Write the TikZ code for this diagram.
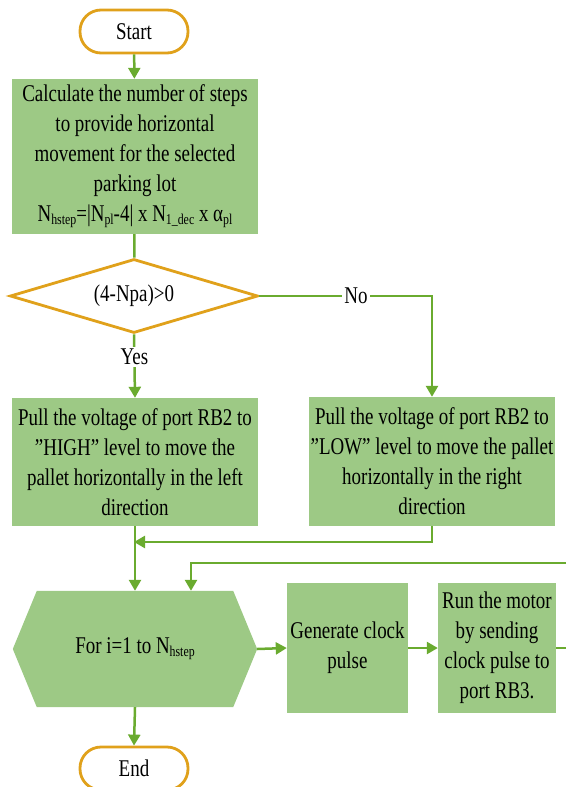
\documentclass[tikz,border=0pt]{standalone}
\usepackage{fontspec}
\setmainfont{Liberation Serif}[FakeStretch=0.79]
\usetikzlibrary{arrows.meta,shapes.geometric}
\pgfdeclarelayer{bg}
\pgfsetlayers{bg,main}
\definecolor{boxgreen}{HTML}{9DC985}
\definecolor{linegreen}{HTML}{6AAB2F}
\definecolor{termorange}{HTML}{E0A11B}
% small lowered index text, as in N_hstep
\newcommand{\sbs}[1]{\raisebox{-0.25ex}{\fontsize{15}{15}\selectfont #1}}

\begin{document}
\begin{tikzpicture}[x=1pt,y=-1pt,
  every node/.style={font=\fontsize{24}{30}\selectfont, inner sep=0pt},
  term/.style={draw=termorange, line width=2.8pt, fill=white, rounded corners=21pt,
               minimum width=108pt, minimum height=43pt},
  procbox/.style={fill=boxgreen, align=center},
  decbox/.style={diamond, aspect=3.35, draw=termorange, line width=2.8pt, fill=white,
                 minimum width=248pt, minimum height=74pt},
  flow/.style={draw=linegreen, line width=2.5pt},
  arr/.style={flow, -{Triangle[width=12pt,length=11pt]}},
  lbl/.style={fill=white, inner sep=2pt}
]
\useasboundingbox (0,0) rectangle (566,787);

% terminals
\node[term] (start) at (134,31.5) {Start};
\node[term] (stop) at (134,768.5) {End};

% step count
\node[procbox, minimum width=246pt, minimum height=155pt] (calc) at (135,156.5)
  {Calculate the number of steps\\ to provide horizontal\\ movement for the selected\\ parking lot\\
   N\sbs{hstep}=|N\sbs{pl}-4| x N\sbs{1\_dec} x α\sbs{pl}};

% direction test
\node[decbox] (dec) at (134,296) {(4-Npa)>0};

% direction branches
\node[procbox, minimum width=246pt, minimum height=128pt] (left) at (135,462)
  {Pull the voltage of port RB2 to\\ ”HIGH” level to move the\\ pallet horizontally in the left\\ direction};
\node[procbox, minimum width=246pt, minimum height=129pt] (right) at (432,461.5)
  {Pull the voltage of port RB2 to\\ ”LOW” level to move the pallet\\ horizontally in the right\\ direction};

% stepping loop
\node[minimum width=244pt, minimum height=116pt] (loop) at (135,649) {For i=1 to N\sbs{hstep}};
\begin{pgfonlayer}{bg}
  \fill[boxgreen] (loop.west) -- ([xshift=24pt]loop.north west) -- ([xshift=-24pt]loop.north east)
    -- (loop.east) -- ([xshift=-24pt]loop.south east) -- ([xshift=24pt]loop.south west) -- cycle;
\end{pgfonlayer}
\node[procbox, minimum width=121pt, minimum height=130pt] (gen) at (347.5,648)
  {Generate clock\\ pulse};
\node[procbox, minimum width=118pt, minimum height=130pt] (run) at (497,648)
  {Run the motor\\ by sending\\ clock pulse to\\ port RB3.};

% connector points
\coordinate (merge) at (134,542);
\coordinate (runout) at (566,648);
\coordinate (ret) at (566,563);

% connectors
\draw[arr] (start) -- (calc);
\draw[flow] (calc) -- (dec);
\draw[arr] (dec.south) -- node[lbl, pos=0.35] {Yes} (left.north);
\draw[arr] (dec.east) -| node[lbl, pos=0.28] {No} (right.north);
\draw[arr] (right.south) |- (merge);
\draw[arr] (left.south) -- (loop.north);
\draw[arr] (loop.east) -- (gen.west);
\draw[arr] (gen.east) -- (run.west);
\draw[flow] (run.east) -- (runout);
\draw[arr] (ret) -| ([xshift=56pt]loop.north);
\draw[arr] (loop.south) -- (stop.north);
\end{tikzpicture}
\end{document}
